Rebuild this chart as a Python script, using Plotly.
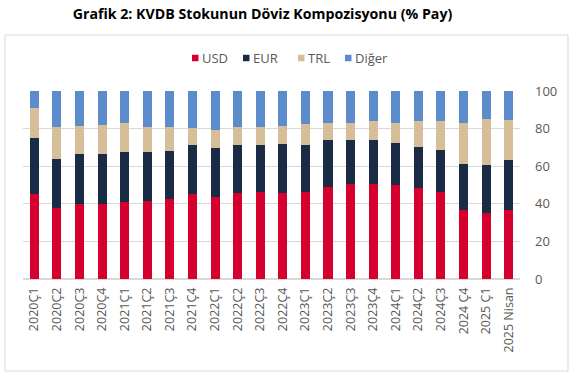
import plotly.graph_objects as go

categories = ["2020Ç1", "2020Ç2", "2020Ç3", "2020Ç4", "2021Ç1", "2021Ç2", "2021Ç3", "2021Ç4",
              "2022Ç1", "2022Ç2", "2022Ç3", "2022Ç4", "2023Ç1", "2023Ç2", "2023Ç3", "2023Ç4",
              "2024Ç1", "2024Ç2", "2024Ç3", "2024 Ç4", "2025 Ç1", "2025 Nisan"]
usd = [45.2, 37.9, 39.7, 39.7, 41.0, 41.5, 42.7, 45.2, 43.4, 45.9, 46.5, 45.7, 46.3, 48.9, 50.7, 50.7,
       50.2, 48.4, 46.3, 36.5, 35.3, 36.5]
eur = [30.0, 25.9, 26.6, 26.6, 26.7, 26.2, 25.6, 26.3, 26.1, 25.6, 25.0, 26.2, 25.0, 24.9, 23.1, 23.1,
       22.3, 21.6, 22.5, 24.8, 25.3, 26.8]
trl = [15.9, 16.9, 15.1, 15.8, 15.1, 13.0, 12.4, 8.6, 9.9, 9.2, 9.2, 9.5, 11.1, 9.4, 9.4, 10.1,
       10.7, 13.9, 15.1, 21.9, 24.3, 21.1]
diger = [8.9, 19.3, 18.6, 17.9, 17.2, 19.3, 19.3, 19.9, 20.6, 19.3, 19.3, 18.6, 17.6, 16.8, 16.8, 16.1,
         16.8, 16.1, 16.1, 16.8, 15.1, 15.6]
series_names = ["USD", "EUR", "TRL", "Diğer"]
y_ticks = [0, 20, 40, 60, 80, 100]

colors = ["#d6002f", "#1a2c45", "#d5be98", "#5d8ccc"]
values = [usd, eur, trl, diger]

fig = go.Figure()
for name, vals, col in zip(series_names, values, colors):
    fig.add_trace(go.Bar(x=categories, y=vals, name=name, marker_color=col,
                         marker_line_width=0, showlegend=False))

W, H = 571, 382
L, R, T, B = 23, 51, 91, 103
pw, ph = W - L - R, H - T - B

def px(x):
    return (x - L) / pw

def py(y):
    return (H - B - y) / ph

# custom legend (small square swatch close to text, as in the reference)
legend_left = [192, 243, 298, 345]
legend_y = 58
sw = 6.5
shapes = [dict(type="rect", xref="paper", yref="paper",
               x0=px(5), x1=px(568), y0=py(371), y1=py(35),
               line=dict(color="#d9d9d9", width=1), fillcolor="rgba(0,0,0,0)",
               layer="below")]
annotations = []
for name, col, lx in zip(series_names, colors, legend_left):
    shapes.append(dict(type="rect", xref="paper", yref="paper",
                       x0=px(lx), x1=px(lx + sw), y0=py(legend_y + sw / 2), y1=py(legend_y - sw / 2),
                       line=dict(width=0), fillcolor=col))
    annotations.append(dict(text=name, xref="paper", yref="paper", x=px(lx + sw + 1.5),
                            y=py(legend_y), xanchor="left", yanchor="middle", showarrow=False,
                            font=dict(size=13, color="#595959")))

fig.update_layout(
    width=W, height=H, barmode="stack", bargap=0.6,
    margin=dict(l=L, r=R, t=T, b=B, autoexpand=False),
    paper_bgcolor="white", plot_bgcolor="white",
    font=dict(family="Open Sans", color="#595959", size=13),
    title=dict(text="<b>Grafik 2: KVDB Stokunun Döviz Kompozisyonu (% Pay)</b>",
               x=262.5 / W, xanchor="center", y=1 - 14 / H, yanchor="middle",
               font=dict(family="Open Sans", size=14.2, color="#000000")),
    showlegend=False,
    xaxis=dict(tickangle=-90, showgrid=False, showline=False, ticks="",
               ticklabelstandoff=5, tickfont=dict(size=12.5, color="#595959")),
    yaxis=dict(side="right", range=[0, 100], tickvals=y_ticks, showgrid=True,
               gridcolor="#d9d9d9", gridwidth=1, zeroline=True, zerolinecolor="#d9d9d9",
               ticks="", ticklabelstandoff=14, tickfont=dict(size=13, color="#595959")),
    shapes=shapes,
    annotations=annotations,
)

fig.write_html("out.html", config={"displayModeBar": False},
               post_script="document.body.style.margin='0';")
